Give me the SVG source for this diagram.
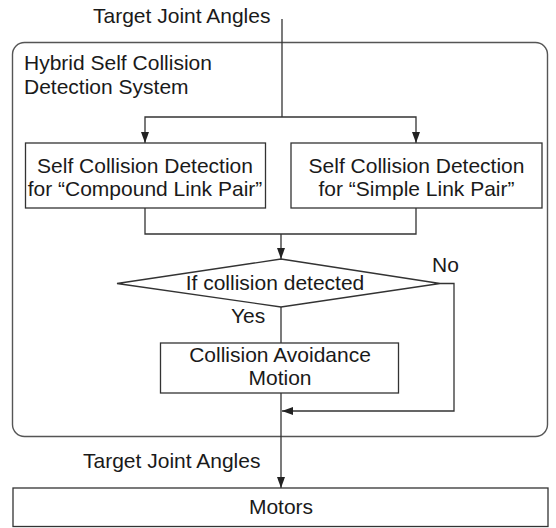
<svg xmlns="http://www.w3.org/2000/svg" width="556" height="528" viewBox="0 0 556 528">
<defs>
<marker id="arr" markerUnits="userSpaceOnUse" markerWidth="12" markerHeight="10" refX="11" refY="4" orient="auto">
<path d="M0,0 L11,4 L0,8 Z" fill="#222"/>
</marker>
</defs>
<style>
text{font-family:"Liberation Sans",Arial,sans-serif;font-size:21px;fill:#1a1a1a}
.c{text-anchor:middle}
.box{fill:#fff;stroke:#333;stroke-width:1.3}
.ln{fill:none;stroke:#333;stroke-width:1.3}
</style>
<rect width="556" height="528" fill="#fff"/>
<g id="system">
<rect x="12.5" y="42.5" width="535" height="394" rx="12" fill="none" stroke="#555" stroke-width="1.4"/>
<text x="24" y="70">Hybrid Self Collision</text>
<text x="24" y="94">Detection System</text>
</g>
<g id="connectors">
<polyline class="ln" points="282,19 282,117"/>
<polyline class="ln" points="282,117 145,117 145,143" marker-end="url(#arr)"/>
<polyline class="ln" points="282,117 416,117 416,143" marker-end="url(#arr)"/>
<polyline class="ln" points="145,208 145,234 416,234 416,208"/>
<polyline class="ln" points="281,234 281,259" marker-end="url(#arr)"/>
<polyline class="ln" points="281,307 281,343"/>
<polyline class="ln" points="281,393 281,488" marker-end="url(#arr)"/>
<polyline class="ln" points="440,283.5 454,283.5 454,411 282,411" marker-end="url(#arr)"/>
<text x="93" y="23">Target Joint Angles</text>
<text x="83" y="468">Target Joint Angles</text>
<text x="432" y="272">No</text>
<text x="231" y="323">Yes</text>
</g>
<g id="compound">
<rect class="box" x="25.5" y="143" width="240" height="65"/>
<text class="c" x="145" y="173">Self Collision Detection</text>
<text class="c" x="145" y="196">for “Compound Link Pair”</text>
</g>
<g id="simple">
<rect class="box" x="291" y="143" width="251" height="65"/>
<text class="c" x="416.5" y="173">Self Collision Detection</text>
<text class="c" x="416.5" y="196">for “Simple Link Pair”</text>
</g>
<g id="decision">
<polygon class="box" points="281,259 440,283.5 281,307 117,283.5"/>
<text class="c" x="275" y="290">If collision detected</text>
</g>
<g id="avoidance">
<rect class="box" x="160.5" y="343" width="238" height="50"/>
<text class="c" x="280" y="362">Collision Avoidance</text>
<text class="c" x="280" y="385">Motion</text>
</g>
<g id="motors">
<rect class="box" x="13" y="488" width="535" height="38.5"/>
<text class="c" x="281" y="514">Motors</text>
</g>
</svg>
